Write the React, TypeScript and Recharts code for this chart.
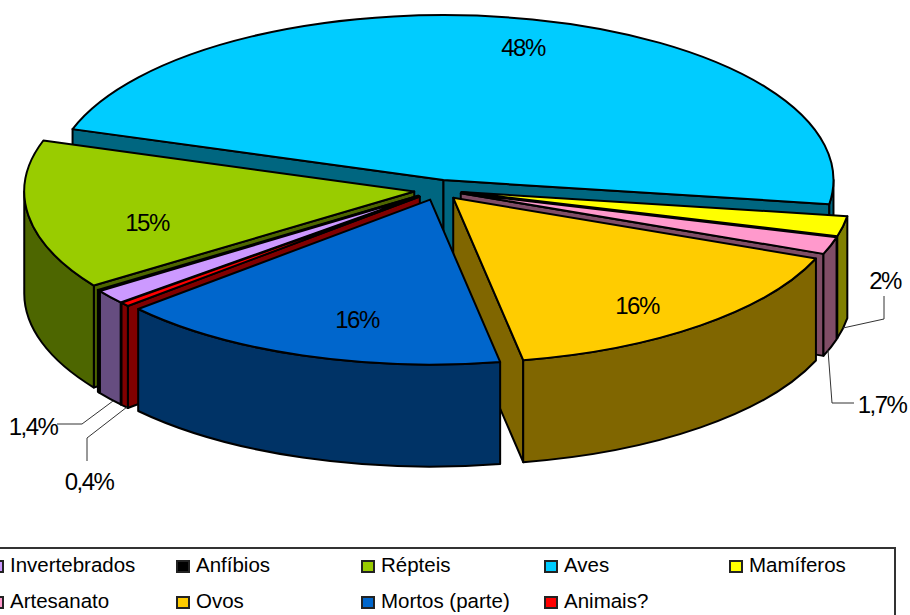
import { PieChart, Pie } from 'recharts'

const names = ['Invertebrados', 'Anfíbios', 'Répteis', 'Aves', 'Mamíferos', 'Artesanato', 'Ovos', 'Mortos (parte)', 'Animais?']
const values = [1.4, 0.1, 14.8, 47.8, 2, 1.7, 16.3, 16.5, 0.4]
const colors = ['#CC99FF', '#000000', '#99CC00', '#00CCFF', '#FFFF00', '#FF99CC', '#FFCC00', '#0066CC', '#FF0000']
const sideColors = ['#664D80', '#000000', '#4D6600', '#006680', '#808000', '#804D66', '#806600', '#003366', '#800000']
const labels = ['1,4%', '', '15%', '48%', '2%', '1,7%', '16%', '16%', '0,4%']

// back to front
const paintOrder = [3, 4, 5, 6, 2, 1, 0, 8, 7]

const data = names.map((name, i) => ({ name, value: values[i] }))

const TILT = 165 / 390
const DEPTH = 102
const EXPLODE = 24

const labelPos: Record<number, [number, number]> = {
  0: [33, 426], 2: [147, 222], 3: [523, 47], 4: [885, 280],
  5: [882, 404], 6: [637, 305], 7: [357, 319], 8: [89, 481],
}
const leaders: Record<number, string> = {
  0: '113,401 82,424 57,424',
  4: '843,328 884,319 884,296',
  5: '828,350 832,403 854,403',
  8: '127,407 87,438 87,461',
}
const legendX = [-10, 176, 361, 544, 729]

const rad = (a: number) => (a * Math.PI) / 180

function Slice3D(props: any, only: number) {
  if (props.index !== only) return <g />
  const { cx, cy, outerRadius: r, startAngle: s, endAngle: e, midAngle: m } = props
  const ox = cx + EXPLODE * Math.cos(rad(m))
  const oy = cy - EXPLODE * TILT * Math.sin(rad(m))
  const ry = r * TILT
  const px = (a: number) => ox + r * Math.cos(rad(a))
  const py = (a: number) => oy - ry * Math.sin(rad(a))
  const wall = (a: number) =>
    `M${ox},${oy} L${px(a)},${py(a)} L${px(a)},${py(a) + DEPTH} L${ox},${oy + DEPTH} Z`
  const rim = (a: number, b: number) =>
    `M${px(a)},${py(a)} A${r},${ry} 0 0 1 ${px(b)},${py(b)} L${px(b)},${py(b) + DEPTH} A${r},${ry} 0 0 0 ${px(a)},${py(a) + DEPTH} Z`
  const stroke = { stroke: '#000', strokeWidth: 2, strokeLinejoin: 'round' as const }
  const side = sideColors[only]
  const rims: [number, number][] = []
  for (const [hi, lo] of [[360, 180], [0, -180]]) {
    const a = Math.min(s, hi)
    const b = Math.max(e, lo)
    if (a > b) rims.push([a, b])
  }
  return (
    <g>
      {Math.cos(rad(s)) < 0 && <path d={wall(s)} fill={side} {...stroke} />}
      {Math.cos(rad(e)) > 0 && <path d={wall(e)} fill={side} {...stroke} />}
      {rims.map(([a, b], i) => <path key={i} d={rim(a, b)} fill={side} {...stroke} />)}
      <path
        d={`M${ox},${oy} L${px(s)},${py(s)} A${r},${ry} 0 ${s - e > 180 ? 1 : 0} 1 ${px(e)},${py(e)} Z`}
        fill={colors[only]}
        {...stroke}
      />
    </g>
  )
}

function renderLabel({ index }: any) {
  const pos = labelPos[index]
  if (!pos) return <g />
  return (
    <g>
      {leaders[index] && <polyline points={leaders[index]} fill="none" stroke="#333" strokeWidth={1} />}
      <text x={pos[0]} y={pos[1]} textAnchor="middle" dominantBaseline="central" fontSize={24} letterSpacing={-1.5}
        fontFamily="'Liberation Sans', Arial, sans-serif" fill="#000">
        {labels[index]}
      </text>
    </g>
  )
}

export default function App() {
  return (
    <div style={{ position: 'absolute', left: 0, top: 0, width: 910, height: 615, overflow: 'hidden', background: '#fff' }}>
      <PieChart width={910} height={615} margin={{ top: 0, right: 0, bottom: 0, left: 0 }}>
        {paintOrder.map((idx, n) => (
          <Pie
            key={idx}
            data={data}
            dataKey="value"
            nameKey="name"
            cx={438}
            cy={190}
            innerRadius={0}
            outerRadius={390}
            startAngle={220.1}
            endAngle={-139.9}
            stroke="none"
            isAnimationActive={false}
            shape={(p: any) => Slice3D(p, idx)}
            label={n === paintOrder.length - 1 ? renderLabel : false}
            labelLine={false}
          />
        ))}
      </PieChart>
      <div style={{ position: 'absolute', left: -10, top: 547, width: 906, height: 100, border: '2px solid #333', boxSizing: 'border-box' }} />
      {names.map((name, i) => {
        const col = i < 5 ? i : i - 5
        const y = i < 5 ? 565 : 601
        return (
          <div key={name} style={{ position: 'absolute', left: legendX[col], top: y - 12, height: 24, display: 'flex', alignItems: 'center', whiteSpace: 'nowrap', fontFamily: "'Liberation Sans', Arial, sans-serif", fontSize: 20.5, color: '#000' }}>
            <span style={{ width: 10, height: 9, border: '2px solid #222', background: colors[i], marginRight: 6, marginTop: 2, display: 'inline-block', boxSizing: 'content-box' }} />
            {name}
          </div>
        )
      })}
    </div>
  )
}
